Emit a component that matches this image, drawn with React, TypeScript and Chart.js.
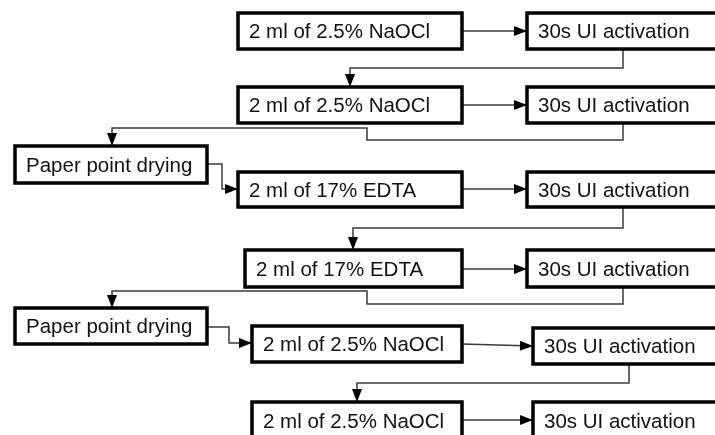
import React, { useEffect, useRef } from "react";
import { Chart, registerables } from "chart.js";

Chart.register(...registerables);

// Flowchart nodes (grid units on a 715 x 435 board)
const boxLabels = [
  "2 ml of 2.5% NaOCl", "30s UI activation",
  "2 ml of 2.5% NaOCl", "30s UI activation",
  "Paper point drying",
  "2 ml of 17% EDTA", "30s UI activation",
  "2 ml of 17% EDTA", "30s UI activation",
  "Paper point drying",
  "2 ml of 2.5% NaOCl", "30s UI activation",
  "2 ml of 2.5% NaOCl", "30s UI activation",
];
const boxLeft = [238, 527, 238, 527, 15, 238, 527, 245, 527, 15, 252, 533, 252, 533];
const boxTop = [13, 13, 87, 87, 146, 172, 172, 250, 250, 308, 326, 328, 402, 402];
const boxRight = [462, 722, 462, 722, 207, 462, 722, 462, 722, 207, 462, 722, 462, 722];
const boxBottom = [49, 49, 123, 123, 183, 207, 207, 287, 287, 344, 362, 364, 440, 440];

// Connectors (each ends with an arrow head)
const linkX: number[][] = [
  [462, 527],
  [623, 623, 350, 350],
  [462, 527],
  [623, 623, 367, 367, 112, 112],
  [207, 222, 222, 238],
  [462, 527],
  [623, 623, 353, 353],
  [462, 527],
  [623, 623, 367, 367, 112, 112],
  [207, 229, 229, 252],
  [462, 533],
  [629, 629, 357, 357],
  [462, 533],
];
const linkY: number[][] = [
  [31, 31],
  [49, 68, 68, 87],
  [105, 105],
  [123, 140, 140, 128, 128, 146],
  [164, 164, 189, 189],
  [189, 189],
  [207, 228, 228, 250],
  [269, 269],
  [287, 304, 304, 291, 291, 308],
  [327, 327, 343, 343],
  [344, 346],
  [364, 383, 383, 402],
  [420, 420],
];

const FONT = '20.5px "Liberation Sans", Arial, sans-serif';

const flowPlugin = {
  id: "flow",
  afterDatasetsDraw(chart: any) {
    const ctx = chart.ctx as CanvasRenderingContext2D;
    const xs = chart.scales.x;
    const ys = chart.scales.y;
    ctx.save();
    // boxes
    for (let i = 0; i < boxLabels.length; i++) {
      const x1 = xs.getPixelForValue(boxLeft[i]);
      const x2 = xs.getPixelForValue(boxRight[i]);
      const y1 = ys.getPixelForValue(boxTop[i]);
      const y2 = ys.getPixelForValue(boxBottom[i]);
      ctx.fillStyle = "#ffffff";
      ctx.fillRect(x1, y1, x2 - x1, y2 - y1);
      ctx.strokeStyle = "#000000";
      ctx.lineWidth = 3.5;
      ctx.strokeRect(x1, y1, x2 - x1, y2 - y1);
      ctx.fillStyle = "#111111";
      ctx.font = FONT;
      ctx.textAlign = "left";
      ctx.textBaseline = "alphabetic";
      ctx.fillText(boxLabels[i], x1 + 11, (y1 + y2) / 2 + 7.3);
    }
    // arrow heads
    ctx.fillStyle = "#000000";
    for (let i = 0; i < linkX.length; i++) {
      const n = linkX[i].length;
      const px = xs.getPixelForValue(linkX[i][n - 1]);
      const py = ys.getPixelForValue(linkY[i][n - 1]);
      const qx = xs.getPixelForValue(linkX[i][n - 2]);
      const qy = ys.getPixelForValue(linkY[i][n - 2]);
      const ang = Math.atan2(py - qy, px - qx);
      const len = 13;
      const hw = 5;
      const bx = px - Math.cos(ang) * len;
      const by = py - Math.sin(ang) * len;
      ctx.beginPath();
      ctx.moveTo(px, py);
      ctx.lineTo(bx - Math.sin(ang) * hw, by + Math.cos(ang) * hw);
      ctx.lineTo(bx + Math.sin(ang) * hw, by - Math.cos(ang) * hw);
      ctx.closePath();
      ctx.fill();
    }
    ctx.restore();
  },
};

export default function App() {
  const ref = useRef<HTMLCanvasElement | null>(null);
  useEffect(() => {
    if (!ref.current) return;
    const datasets = linkX.map((xsArr, i) => ({
      data: xsArr.map((x, j) => ({ x, y: linkY[i][j] })),
      showLine: true,
      borderColor: "#3a3a3a",
      borderWidth: 1.5,
      pointRadius: 0,
      fill: false,
      tension: 0,
    }));
    const chart = new Chart(ref.current, {
      type: "scatter",
      data: { datasets },
      options: {
        animation: false,
        responsive: false,
        maintainAspectRatio: false,
        layout: { padding: 0 },
        plugins: { legend: { display: false }, tooltip: { enabled: false } },
        scales: {
          x: { type: "linear", min: 0, max: 715, display: false },
          y: { type: "linear", min: 0, max: 435, reverse: true, display: false },
        },
      },
      plugins: [flowPlugin],
    });
    return () => chart.destroy();
  }, []);
  return (
    <div style={{ position: "fixed", left: 0, top: 0, width: 715, height: 435, background: "#fff" }}>
      <canvas ref={ref} width={715} height={435} style={{ width: 715, height: 435, display: "block" }} />
    </div>
  );
}
